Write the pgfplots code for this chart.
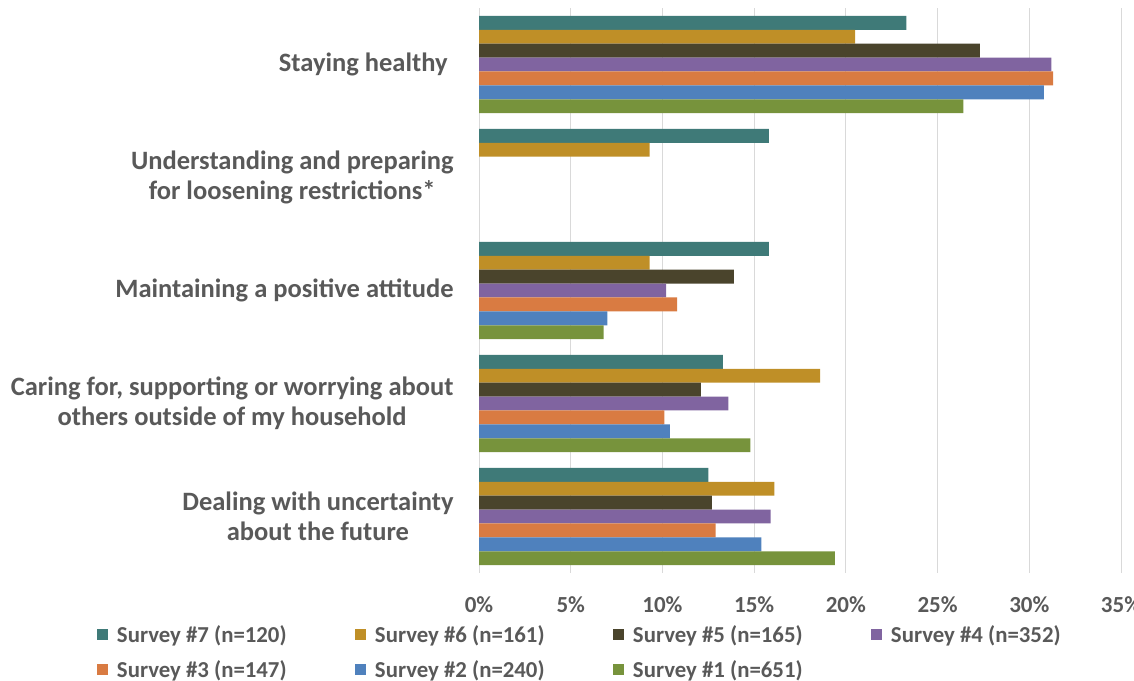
\documentclass[border=0pt]{standalone}
\usepackage{pgfplots}
\pgfplotsset{compat=1.18}
\usepackage{fontspec}
\setmainfont{Carlito}
\definecolor{s7}{HTML}{3F7A78}
\definecolor{s6}{HTML}{BF8F27}
\definecolor{s5}{HTML}{4A442C}
\definecolor{s4}{HTML}{8064A0}
\definecolor{s3}{HTML}{D97B42}
\definecolor{s2}{HTML}{4F81BD}
\definecolor{s1}{HTML}{77933C}
\definecolor{txt}{HTML}{595959}
\definecolor{gridc}{HTML}{D9D9D9}
\begin{document}
\begin{tikzpicture}[x=1pt,y=1pt]
\useasboundingbox (0,0) rectangle (1134,680);
\begin{axis}[
  at={(479pt,107pt)}, anchor=south west,
  scale only axis, width=642pt, height=565pt,
  xmin=0, xmax=35, ymin=-0.5, ymax=4.5, y dir=reverse,
  xbar, bar width=13.9pt,
  axis line style={draw=none},
  major tick length=0pt,
  xmajorgrids, grid style={gridc, line width=1pt},
  xtick={0,5,10,15,20,25,30,35},
  xticklabels={0\%,5\%,10\%,15\%,20\%,25\%,30\%,35\%},
  xticklabel style={font=\fontsize{23}{27}\selectfont\bfseries, text=txt, yshift=-20pt},
  ytick={0,1,2,3,4},
  yticklabels={{Staying healthy\ },{Understanding and preparing\\for loosening restrictions*},{Maintaining a positive attitude},{Caring for, supporting or worrying about\\others outside of my household},{Dealing with uncertainty\ \\about the future}},
  yticklabel style={font=\fontsize{26.5}{30}\selectfont\bfseries, text=txt, align=center, anchor=east, xshift=-22pt},
  legend columns=4,
  legend style={draw=none, fill=none, at={(-0.6,-0.085)}, anchor=north west,
    font=\fontsize{22.8}{27}\selectfont\bfseries, text=txt,
    /tikz/every odd column/.append style={column sep=7pt},
    row sep=13pt},
  legend cell align=left,
  legend image code/.code={\fill[#1] (0pt,-5.5pt) rectangle (11pt,5.5pt);},
]
\addplot[fill=s7, draw=none, bar shift=41.7pt] coordinates {(23.3,0) (15.8,1) (15.8,2) (13.3,3) (12.5,4)};
\addlegendentry{\makebox[236pt][l]{Survey \#7 (n=120)}}
\addplot[fill=s6, draw=none, bar shift=27.8pt] coordinates {(20.5,0) (9.3,1) (9.3,2) (18.6,3) (16.1,4)};
\addlegendentry{\makebox[236pt][l]{Survey \#6 (n=161)}}
\addplot[fill=s5, draw=none, bar shift=13.9pt] coordinates {(27.3,0) (13.9,2) (12.1,3) (12.7,4)};
\addlegendentry{\makebox[236pt][l]{Survey \#5 (n=165)}}
\addplot[fill=s4, draw=none, bar shift=0pt] coordinates {(31.2,0) (10.2,2) (13.6,3) (15.9,4)};
\addlegendentry{\makebox[236pt][l]{Survey \#4 (n=352)}}
\addplot[fill=s3, draw=none, bar shift=-13.9pt] coordinates {(31.3,0) (10.8,2) (10.1,3) (12.9,4)};
\addlegendentry{\makebox[236pt][l]{Survey \#3 (n=147)}}
\addplot[fill=s2, draw=none, bar shift=-27.8pt] coordinates {(30.8,0) (7.0,2) (10.4,3) (15.4,4)};
\addlegendentry{\makebox[236pt][l]{Survey \#2 (n=240)}}
\addplot[fill=s1, draw=none, bar shift=-41.7pt] coordinates {(26.4,0) (6.8,2) (14.8,3) (19.4,4)};
\addlegendentry{\makebox[236pt][l]{Survey \#1 (n=651)}}
\end{axis}
\end{tikzpicture}
\end{document}
